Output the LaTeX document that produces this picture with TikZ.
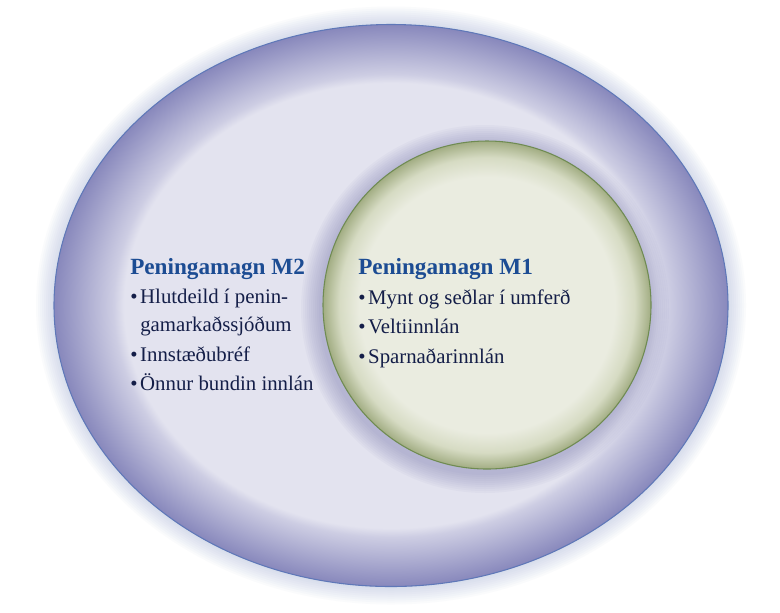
\documentclass[tikz,border=0pt]{standalone}
\usepackage{fontspec}
\setmainfont{Liberation Serif}
\definecolor{ellin}{HTML}{E3E3EF}
\definecolor{ellmid}{HTML}{CDCDE3}
\definecolor{ellrim}{HTML}{8888BC}
\definecolor{elledge}{HTML}{5F78B8}
\definecolor{cirin}{HTML}{EAECE0}
\definecolor{cirmid}{HTML}{D6DBC3}
\definecolor{cirrim}{HTML}{A2AD83}
\definecolor{ciredge}{HTML}{6F8B52}
\definecolor{glowcol}{HTML}{8092C4}
\definecolor{shadcol}{HTML}{6E6EA8}
\definecolor{titleblue}{HTML}{1C4C93}
\definecolor{bodynavy}{HTML}{141E48}
\pgfdeclareradialshading{outerell}{\pgfpoint{0bp}{0bp}}{color(0bp)=(ellin); color(19.8bp)=(ellin); color(20.6bp)=(ellmid); color(25bp)=(ellrim); color(50bp)=(ellrim)}
\pgfdeclareradialshading{innercir}{\pgfpoint{0bp}{0bp}}{color(0bp)=(cirin); color(19.5bp)=(cirin); color(22.5bp)=(cirmid); color(25bp)=(cirrim); color(50bp)=(cirrim)}
\tikzset{
  titletext/.style={anchor=base west, inner sep=0pt, text=titleblue, font=\fontsize{17.4}{20}\selectfont\bfseries},
  itemtext/.style={anchor=base west, inner sep=0pt, text=bodynavy, font=\fontsize{15.6}{19}\selectfont},
}
\newcommand{\bul}{\textbullet\kern2pt}
\begin{document}
\begin{tikzpicture}[x=0.75pt,y=-0.75pt]
\fill[white] (0,0) rectangle (780,612);
\useasboundingbox (0,0) rectangle (780,612);
% outer glow
\foreach \k in {18,16,...,2} {
  \fill[glowcol, opacity=0.035] (391,305.5) ellipse [x radius=337+\k, y radius=281+\k];
}
% outer ellipse
\path[shading=outerell, draw=elledge, line width=0.8pt] (391,305.5) ellipse [x radius=337, y radius=281];
% shadow around inner circle
\foreach \k in {20,18,...,2} {
  \fill[shadcol, opacity=0.045] (485,309) circle [radius=164+\k];
}
% inner circle
\path[shading=innercir, draw=ciredge, line width=0.8pt] (487,305) circle [radius=164];
% texts M2
\node[titletext] (t2) at (130,274) {Peningamagn M2};
\node[itemtext] (a1) at (130,303) {\bul Hlutdeild í penin-};
\node[itemtext] (a2) at (140,331) {gamarkaðssjóðum};
\node[itemtext] (a3) at (130,361) {\bul Innstæðubréf};
\node[itemtext] (a4) at (130,390) {\bul Önnur bundin innlán};
% texts M1
\node[titletext] (t1) at (358,274) {Peningamagn M1};
\node[itemtext] (b1) at (358,304) {\bul Mynt og seðlar í umferð};
\node[itemtext] (b2) at (358,333) {\bul Veltiinnlán};
\node[itemtext] (b3) at (358,363) {\bul Sparnaðarinnlán};
\end{tikzpicture}
\end{document}
